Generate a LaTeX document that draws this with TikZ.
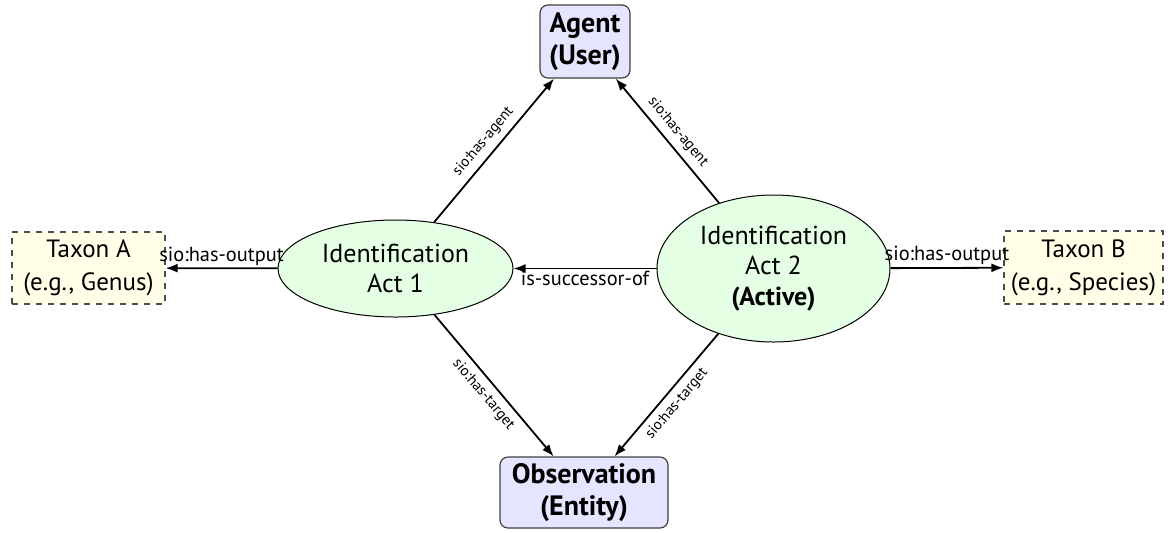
\documentclass[tikz,border=0pt]{standalone}
\usepackage{fontspec}
\setmainfont{PT Sans}
\usetikzlibrary{shapes.geometric,arrows.meta}
\begin{document}
\begin{tikzpicture}[x=0.5pt,y=-0.5pt,
  mainbox/.style={draw=black!75,fill=blue!10,rounded corners=4pt,line width=0.6pt,align=center,
    font=\fontsize{14}{16}\selectfont\bfseries,inner sep=0pt},
  act/.style={ellipse,draw=black,fill=green!10,line width=0.5pt,align=center,inner sep=0pt,
    font=\fontsize{13}{15.2}\selectfont},
  taxon/.style={draw=black!70,dashed,fill=yellow!10,line width=0.6pt,align=center,inner sep=0pt,
    font=\fontsize{12.5}{16.5}\selectfont},
  rel/.style={-{Latex[length=6pt,width=4.5pt]},line width=0.9pt},
  hlab/.style={font=\fontsize{10.2}{11}\selectfont,inner sep=1pt},
  slab/.style={font=\fontsize{7.5}{8}\selectfont,sloped,inner sep=3pt}]
\useasboundingbox (0,0) rectangle (1168,532);
\node[mainbox,minimum width=45pt,minimum height=36.5pt] (agent) at (585,41.5) {Agent\\(User)};
\node[mainbox,minimum width=84pt,minimum height=35.5pt] (obs) at (584,492.5) {Observation\\(Entity)};
\node[act,minimum width=117.5pt,minimum height=48.5pt] (act1) at (395.5,268.5) {Identification\\Act 1};
\node[act,minimum width=116.5pt,minimum height=73.5pt] (act2) at (773.5,268.5) {Identification\\Act 2\\\textbf{(Active)}};
\node[taxon,minimum width=76.5pt,minimum height=36pt] (taxa) at (88.5,268) {Taxon A\\(e.g., Genus)};
\node[taxon,minimum width=79.5pt,minimum height=36.5pt] (taxb) at (1083.5,267.5) {Taxon B\\(e.g., Species)};
\draw[rel] (act1) -- node[slab,above]{sio:has-agent} (agent);
\draw[rel] (act2) -- node[slab,above]{sio:has-agent} (agent);
\draw[rel] (act1) -- node[slab,below]{sio:has-target} (obs);
\draw[rel] (act2) -- node[slab,below]{sio:has-target} (obs);
\draw[rel] (act1) -- node[hlab,above]{sio:has-output} (taxa);
\draw[rel] (act2) -- node[hlab,above]{sio:has-output} (taxb);
\draw[rel] (act2) -- node[hlab,below]{is-successor-of} (act1);
\end{tikzpicture}
\end{document}
